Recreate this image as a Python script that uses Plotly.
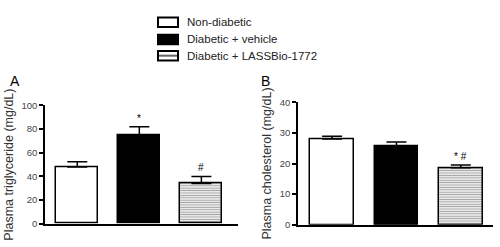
import plotly.graph_objects as go

groups = ["Non-diabetic", "Diabetic + vehicle", "Diabetic + LASSBio-1772"]
tg_mean = [48, 74.5, 34]
tg_sem = [4.5, 7.5, 6]
tg_marks = ["", "*", "#"]
chol_mean = [28, 25.8, 18.6]
chol_sem = [0.9, 1.2, 0.9]
chol_marks = ["", "", "* #"]

fills = ["white", "black", "white"]
patterns = ["", "", "-"]

W, H = 500, 247
def px(x): return x / W
def py(y): return 1 - y / H

fig = go.Figure()
xs = [0, 1, 2]
for i in range(3):
    common = dict(
        width=0.68,
        marker=dict(color=fills[i], line=dict(color="black", width=1.5),
                    pattern=dict(shape=patterns[i], fgcolor="#444", bgcolor="white",
                                 size=2.4, solidity=0.5)),
        showlegend=False, name=groups[i],
    )
    err = dict(type="data", symmetric=False, arrayminus=[0], color="black",
               thickness=1.5, width=10)
    fig.add_trace(go.Bar(x=[xs[i]], y=[tg_mean[i]], xaxis="x", yaxis="y",
                         error_y={**err, "array": [tg_sem[i]]}, **common))
    fig.add_trace(go.Bar(x=[xs[i]], y=[chol_mean[i]], xaxis="x2", yaxis="y2",
                         error_y={**err, "array": [chol_sem[i]]}, **common))

annotations = []
for i in range(3):
    if tg_marks[i]:
        annotations.append(dict(x=xs[i], y=tg_mean[i] + tg_sem[i], xref="x", yref="y",
                                text=tg_marks[i], showarrow=False, yanchor="bottom", yshift=1,
                                font=dict(size=10, color="black")))
    if chol_marks[i]:
        annotations.append(dict(x=xs[i], y=chol_mean[i] + chol_sem[i], xref="x2", yref="y2",
                                text=chol_marks[i], showarrow=False, yanchor="bottom", yshift=1,
                                font=dict(size=10, color="black")))

annotations += [
    dict(x=px(8), y=py(78), xref="paper", yref="paper", text="A", showarrow=False,
         xanchor="left", yanchor="middle", font=dict(size=14, color="black")),
    dict(x=px(259), y=py(78), xref="paper", yref="paper", text="B", showarrow=False,
         xanchor="left", yanchor="middle", font=dict(size=14, color="black")),
]

shapes = []
leg_rows = [17, 35, 52]
for i, yy in enumerate(leg_rows):
    shapes.append(dict(type="rect", xref="paper", yref="paper",
                       x0=px(158), x1=px(178), y0=py(yy + 5), y1=py(yy - 5),
                       line=dict(color="black", width=2),
                       fillcolor="black" if i == 1 else "white"))
    if i == 2:
        shapes.append(dict(type="line", xref="paper", yref="paper",
                           x0=px(159), x1=px(177), y0=py(yy), y1=py(yy),
                           line=dict(color="#666", width=2)))
    annotations.append(dict(x=px(185), y=py(yy), xref="paper", yref="paper", text=groups[i],
                            showarrow=False, xanchor="left", yanchor="middle",
                            font=dict(size=11.5, color="#222")))

axis_common = dict(showline=True, linecolor="black", linewidth=1.5, showgrid=False,
                   zeroline=False)
fig.update_layout(
    width=W, height=H, margin=dict(l=0, r=0, t=0, b=0),
    paper_bgcolor="white", plot_bgcolor="white",
    font=dict(family="Liberation Sans, Arial, sans-serif", color="#333"),
    bargap=0,
    xaxis=dict(domain=[px(45), px(238)], range=[-0.52, 2.59], showticklabels=False,
               ticks="", anchor="y", **axis_common),
    yaxis=dict(domain=[py(228), py(104)], range=[0, 100], tickvals=[0, 20, 40, 60, 80, 100],
               ticks="outside", ticklen=4, tickwidth=1.5, tickcolor="black",
               tickfont=dict(size=9.5, color="#444"), anchor="x",
               title=dict(text="Plasma triglyceride (mg/dL)", font=dict(size=12.5, color="#333"),
                          standoff=5), **axis_common),
    xaxis2=dict(domain=[px(298), px(493)], range=[-0.53, 2.5], showticklabels=False,
                ticks="", anchor="y2", **axis_common),
    yaxis2=dict(domain=[py(229), py(100.7)], range=[0, 40], tickvals=[0, 10, 20, 30, 40],
                ticks="outside", ticklen=4, tickwidth=1.5, tickcolor="black",
                tickfont=dict(size=9.5, color="#444"), anchor="x2",
                title=dict(text="Plasma cholesterol (mg/dL)", font=dict(size=12.5, color="#333"),
                           standoff=5), **axis_common),
    annotations=annotations, shapes=shapes,
)
fig.write_html("out.html", config={"displayModeBar": False},
               post_script="document.body.style.margin='0';document.body.style.overflow='hidden';")
